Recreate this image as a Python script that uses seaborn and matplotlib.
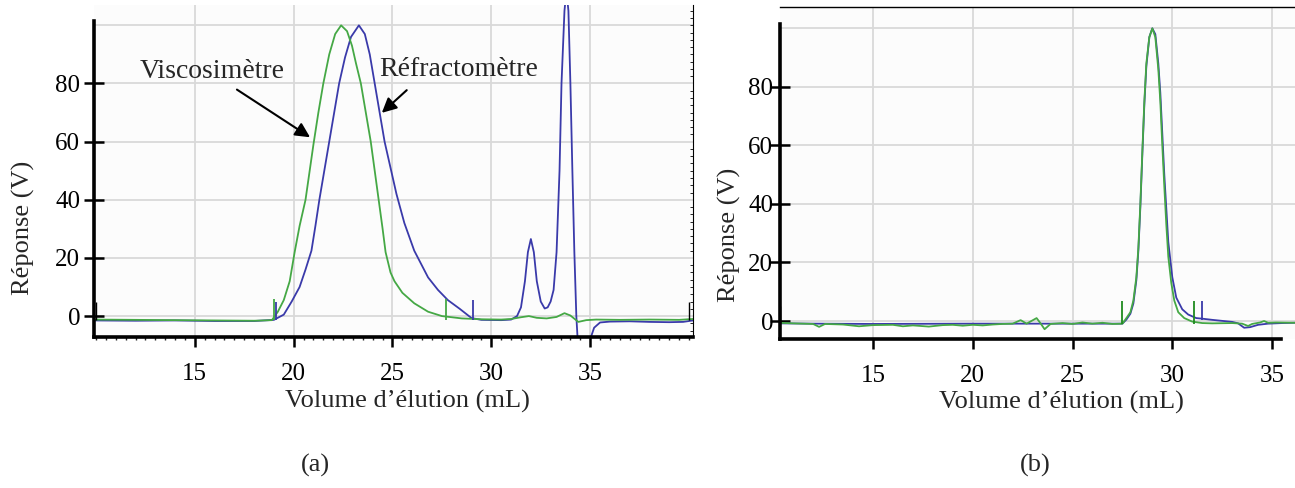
import pandas as pd
import matplotlib.pyplot as plt
from matplotlib.ticker import MultipleLocator
import seaborn as sns

# ----------------------------------------------------------
# data (volume in mL, response in V)
# ----------------------------------------------------------

# (a) viscometer trace
a_visc_x = [9.9, 12, 14, 16, 18, 18.9, 19.2, 19.5, 19.8, 20.05, 20.3, 20.6, 21.0, 21.25,
            21.5, 21.8, 22.1, 22.4, 22.7, 22.95, 23.15, 23.4, 23.65, 23.9, 24.1, 24.3,
            24.5, 24.65, 24.9, 25.1, 25.5, 26.1, 26.8, 27.5, 28.5, 29.5, 30.5, 31.0,
            31.5, 31.9, 32.3, 32.8, 33.3, 33.7, 34.0, 34.4, 34.8, 35.3, 36.5, 38, 39.5, 40.2]
a_visc_y = [-1.2, -1.3, -1.4, -1.5, -1.6, -1.4, 1.5, 5.5, 12, 22, 31, 40, 59, 70,
            80, 90, 97, 100, 98, 93, 87, 80, 70, 60, 50, 40,
            30, 22, 15, 12, 8, 4.4, 1.5, 0, -0.8, -1.1, -1.2, -1.0,
            -0.4, 0.0, -0.6, -0.8, -0.3, 1.0, 0.2, -2.0, -1.4, -1.2, -1.3, -1.2, -1.3, -1.0]

# (a) refractometer trace
a_refr_x = [9.9, 12, 14, 16, 18, 19.0, 19.5, 19.9, 20.3, 20.6, 20.9, 21.1, 21.3, 21.55,
            21.8, 22.05, 22.3, 22.6, 22.9, 23.3, 23.6, 23.85, 24.1, 24.35, 24.6, 24.9,
            25.2, 25.6, 26.1, 26.8, 27.3, 27.8, 28.4, 29.0, 29.5, 30.5, 31.0, 31.3,
            31.5, 31.7, 31.85, 32.0, 32.15, 32.3, 32.5, 32.7, 32.85, 33.0, 33.15, 33.3,
            33.45, 33.55, 33.7, 33.8, 33.9, 34.0, 34.1, 34.2, 34.3, 34.4, 34.9, 35.05,
            35.2, 35.5, 36, 37, 38, 39, 39.7, 40.2]
a_refr_y = [-1.5, -1.6, -1.5, -1.7, -1.7, -1.3, 0.5, 5, 10, 16, 22.5, 31, 40, 50,
            60, 70, 80, 89, 96, 100, 97, 90, 80, 70, 60, 51,
            42, 32, 22.5, 13.3, 9, 5.5, 2.5, -0.7, -1.3, -1.4, -1.2, 0,
            3, 12, 22, 26.5, 22, 12, 5, 2.6, 3, 5, 9, 22,
            50, 80, 105, 112, 105, 80, 50, 22, 0, -12, -12, -7,
            -4, -2.2, -1.9, -1.8, -2.0, -2.1, -2.0, -1.5]

# (a) integration marks: position, top
a_visc_mark_x = [19.0, 27.7]
a_visc_mark_top = [5.9, 5.9]
a_refr_mark_x = [19.1, 29.06]
a_refr_mark_top = [4.9, 5.5]
a_edge_mark_x = [10.0, 40.0]
a_edge_mark_top = [4.8, 4.8]

# (b) viscometer trace
b_visc_x = [10.3, 11, 12, 12.3, 12.6, 13.5, 14.3, 15, 16, 16.5, 17, 17.8, 18.5, 19,
            19.5, 20, 20.5, 21, 21.5, 22, 22.4, 22.7, 23.2, 23.4, 23.6, 23.9, 24.5, 25,
            25.5, 26, 26.5, 27, 27.5, 27.7, 27.9, 28.05, 28.2, 28.3, 28.4, 28.5, 28.6,
            28.7, 28.85, 29.0, 29.15, 29.3, 29.4, 29.5, 29.6, 29.7, 29.8, 29.95, 30.1,
            30.3, 30.6, 31.0, 31.5, 32, 33, 33.5, 33.8, 34.0, 34.4, 34.6, 34.8, 35.2, 36.15]
b_visc_y = [-0.6, -0.8, -1.0, -2.0, -1.0, -1.2, -1.8, -1.4, -1.3, -1.8, -1.5, -1.9, -1.4, -1.3,
            -1.6, -1.3, -1.5, -1.2, -1.0, -0.9, 0.3, -0.9, 1.0, -0.8, -2.8, -1.0, -0.7, -1.0,
            -0.5, -0.9, -0.6, -1.0, -0.9, 1, 3, 7, 15, 25, 40, 58, 75,
            88, 97, 100, 97, 86, 75, 60, 46, 33, 22, 13, 7,
            3, 1, -0.2, -0.7, -0.8, -0.7, -0.9, -1.7, -1.0, -0.5, 0.0, -0.6, -0.5, -0.6]

# (b) refractometer trace
b_refr_x = [10.3, 12, 15, 20, 25, 27.5, 27.7, 27.9, 28.05, 28.2, 28.3, 28.4, 28.5, 28.6,
            28.7, 28.85, 29.0, 29.15, 29.3, 29.4, 29.5, 29.6, 29.8, 30.0, 30.2, 30.5,
            30.8, 31.2, 31.5, 32, 33, 33.3, 33.6, 33.9, 34.3, 34.8, 35.5, 36.15]
b_refr_y = [-0.8, -0.9, -1.0, -0.9, -0.9, -0.9, 0.5, 2.5, 6, 14, 24, 39, 57, 74,
            87, 97, 100, 98, 88, 78, 64, 50, 27, 15, 8, 4,
            2.2, 1.0, 0.8, 0.4, -0.3, -0.8, -2.3, -2.1, -1.3, -0.9, -0.7, -0.6]

# (b) integration marks
b_visc_mark_x = [27.5, 31.1]
b_visc_mark_top = [7.0, 7.0]
b_refr_mark_x = [31.5]
b_refr_mark_top = [7.0]
b_edge_mark_x = [10.35]
b_edge_mark_top = [5.0]

y_ticks = [0, 20, 40, 60, 80]
x_ticks = [15, 20, 25, 30, 35]

GREEN = "#45a845"
BLUE = "#3a3aaa"
GRID = "#d9d9d9"

sns.set_style("whitegrid")
plt.rcParams["font.family"] = ["Liberation Serif", "DejaVu Serif"]

fig = plt.figure(figsize=(12.95, 4.88), dpi=100)
ax_a = fig.add_axes([0.0726, 0.3094, 0.4625, 0.6804])
ax_b = fig.add_axes([0.6023, 0.3053, 0.3977, 0.6804])


def draw_traces(ax, vx, vy, rx, ry):
    df_v = pd.DataFrame({"vol": vx, "rep": vy})
    df_r = pd.DataFrame({"vol": rx, "rep": ry})
    sns.lineplot(data=df_r, x="vol", y="rep", ax=ax, color=BLUE, lw=1.3,
                 estimator=None, sort=False)
    sns.lineplot(data=df_v, x="vol", y="rep", ax=ax, color=GREEN, lw=1.3,
                 estimator=None, sort=False)


def style_axes(ax, xlim, ylim, ypad):
    ax.set_facecolor("#fcfcfc")
    ax.set_xlim(*xlim)
    ax.set_ylim(*ylim)
    ax.set_xticks(x_ticks)
    ax.set_yticks(y_ticks)
    ax.grid(True, color=GRID, lw=1.3)
    ax.axhline(100, color=GRID, lw=1.3, zorder=0.5)
    ax.set_axisbelow(True)
    for s in ax.spines.values():
        s.set_visible(False)
    for s in ("left", "bottom"):
        ax.spines[s].set_visible(True)
        ax.spines[s].set_color("black")
        ax.spines[s].set_linewidth(2.6)
    ax.spines["left"].set_bounds(ylim[0], 101.5)
    ax.tick_params(axis="y", which="major", left=True, direction="inout", length=14,
                   width=1.8, labelsize=18, pad=ypad, colors="black")
    ax.tick_params(axis="x", which="major", bottom=True, direction="out", length=7.5,
                   width=1.8, labelsize=18, pad=11, colors="black")
    ax.set_xlabel("Volume d’élution (mL)", fontsize=19)
    ax.set_ylabel("Réponse (V)", fontsize=19)


# ---------------- panel (a) ----------------
draw_traces(ax_a, a_visc_x, a_visc_y, a_refr_x, a_refr_y)
ax_a.vlines(a_visc_mark_x, -1.3, a_visc_mark_top, color=GREEN, lw=1.3)
ax_a.vlines(a_refr_mark_x, -1.3, a_refr_mark_top, color=BLUE, lw=1.3)
ax_a.vlines(a_edge_mark_x, -1.3, a_edge_mark_top, color="black", lw=1.0)
style_axes(ax_a, (9.9, 40.2), (-7.2, 107), 3)
ax_a.spines["right"].set_visible(True)
ax_a.spines["right"].set_color("black")
ax_a.spines["right"].set_linewidth(0.8)
ax_a.xaxis.set_minor_locator(MultipleLocator(0.5))
ax_a.yaxis.set_minor_locator(MultipleLocator(2.5))
ax_a.tick_params(axis="x", which="minor", direction="out", length=2.5, width=1.0,
                 bottom=True)
ax_a.tick_params(axis="y", which="minor", left=False, right=True, direction="in",
                 length=2.5, width=0.7)
ax_a.grid(False, which="minor")
ax_a.xaxis.set_label_coords(0.524, -0.16)
ax_a.yaxis.set_label_coords(-0.098, 0.33)

ax_a.text(15.9, 84, "Viscosimètre", fontsize=20, ha="center", va="center")
ax_a.annotate("", xy=(20.83, 61.5), xytext=(17.13, 77.9),
              arrowprops=dict(arrowstyle="-|>", color="black", lw=1.5,
                              mutation_scale=22, shrinkA=0, shrinkB=0))
ax_a.text(28.37, 84.8, "Réfractomètre", fontsize=20, ha="center", va="center")
ax_a.annotate("", xy=(24.46, 69.9), xytext=(25.72, 77.7),
              arrowprops=dict(arrowstyle="-|>", color="black", lw=1.5,
                              mutation_scale=22, shrinkA=0, shrinkB=0))

# ---------------- panel (b) ----------------
draw_traces(ax_b, b_visc_x, b_visc_y, b_refr_x, b_refr_y)
ax_b.vlines(b_visc_mark_x, -0.9, b_visc_mark_top, color="#1f8a1f", lw=1.3)
ax_b.vlines(b_refr_mark_x, 0.5, b_refr_mark_top, color=BLUE, lw=1.3)
ax_b.vlines(b_edge_mark_x, -0.8, b_edge_mark_top, color="black", lw=1.0)
style_axes(ax_b, (10.34, 36.15), (-6.15, 107.3), -2)
ax_b.spines["bottom"].set_bounds(10.34, 35.45)
ax_b.spines["top"].set_visible(True)
ax_b.spines["top"].set_color("black")
ax_b.spines["top"].set_linewidth(1.0)
ax_b.xaxis.set_label_coords(0.546, -0.155)
ax_b.yaxis.set_label_coords(-0.076, 0.313)

fig.text(315 / 1295, 1 - 465 / 488, "(a)", fontsize=19, ha="center", va="center")
fig.text(1035 / 1295, 1 - 465 / 488, "(b)", fontsize=19, ha="center", va="center")

fig.savefig("out.png", dpi=100, facecolor="white")
